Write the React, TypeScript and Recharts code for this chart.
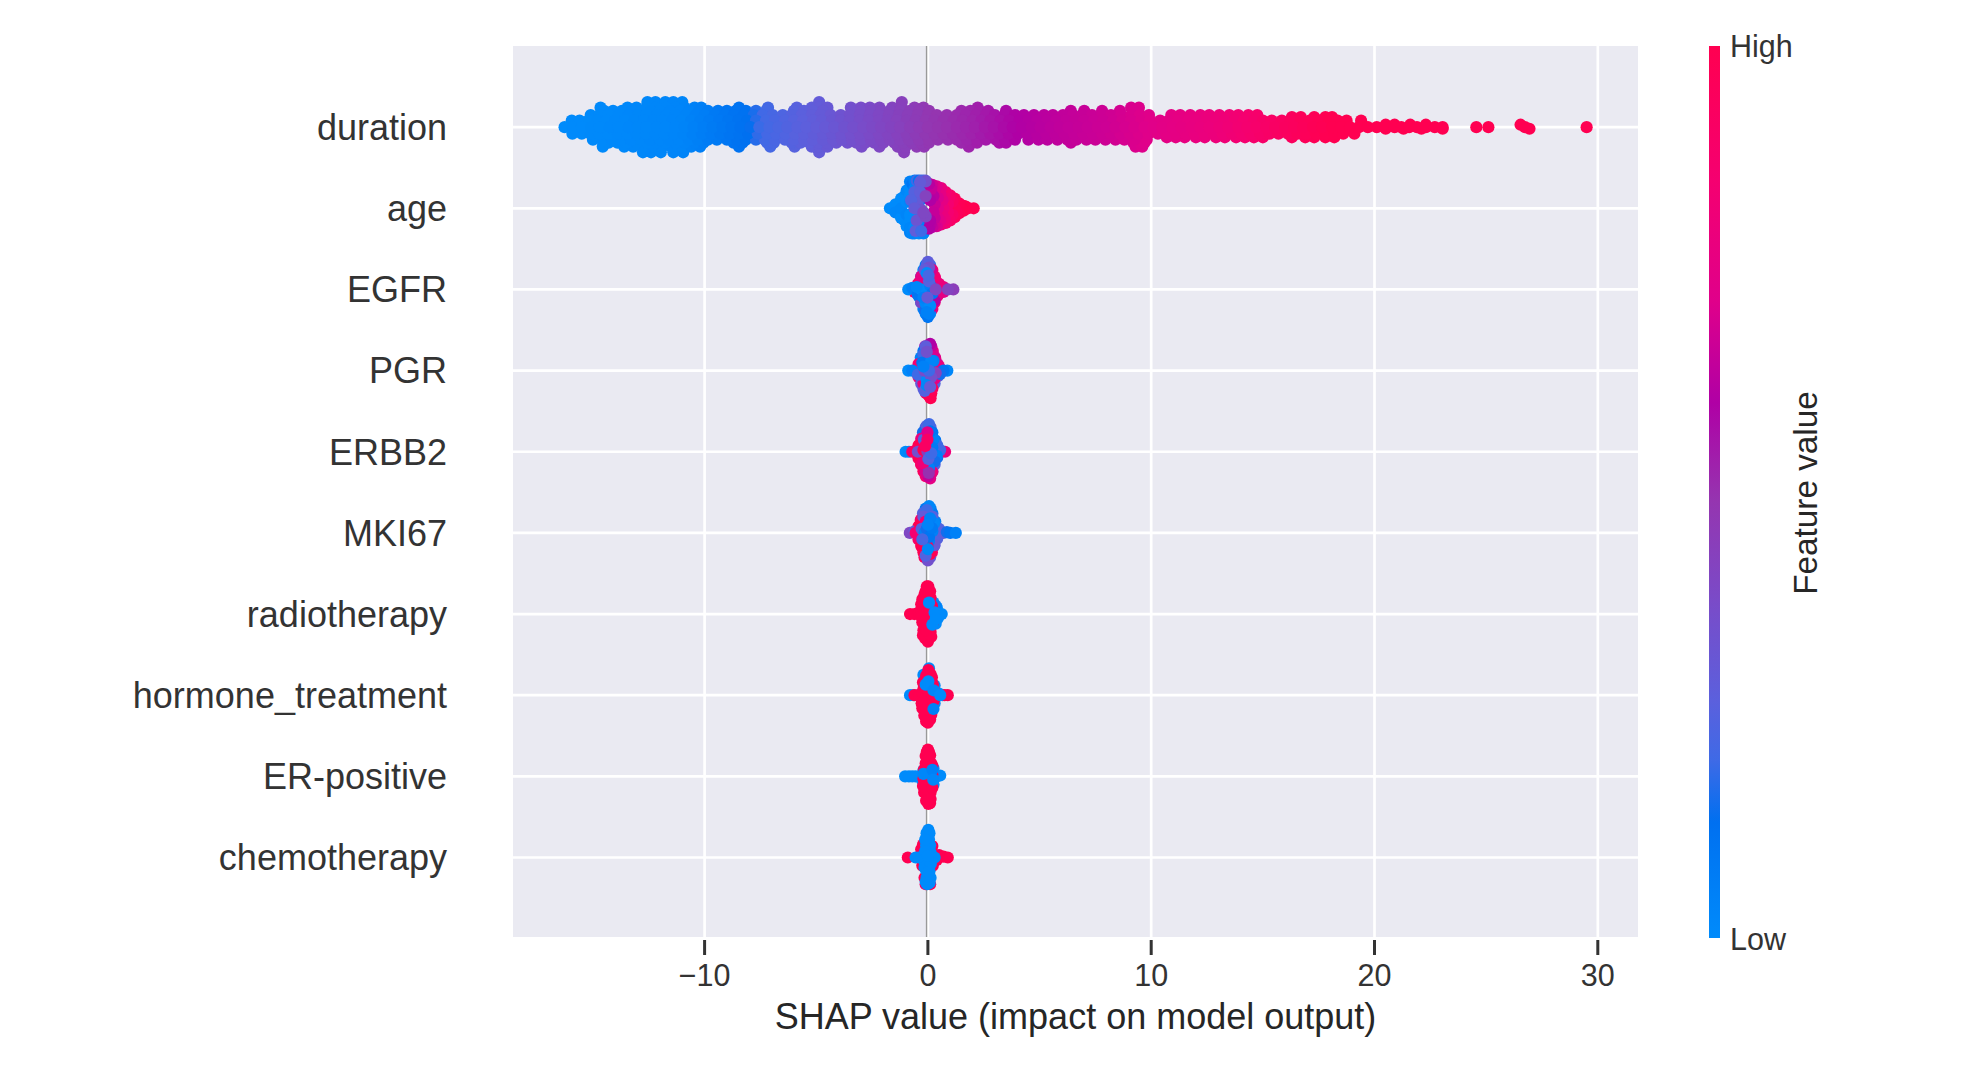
import React from "react";
import { ScatterChart, Scatter, XAxis, YAxis, CartesianGrid, ReferenceLine } from "recharts";

const features = ["chemotherapy", "ER-positive", "hormone_treatment", "radiotherapy", "MKI67", "ERBB2", "PGR", "EGFR", "age", "duration"];
const xTicks = [-10, 0, 10, 20, 30];
const yTicks = [0, 1, 2, 3, 4, 5, 6, 7, 8, 9];
const zeroLine = -0.06;

// colour map: feature value -> colour
const cmapV = [0, 0.13, 0.2, 0.266, 0.378, 0.49, 0.6, 0.715, 0.85, 1];
const cmapC = ["#008bfb", "#0070f0", "#3f6ae6", "#5b60dd", "#7a4bc8", "#9535b0", "#b000a5", "#e0008a", "#f50070", "#ff0051"];

const durKnotX = [-16.5, -11, -9, -8, -7.5, -5, -3, -1, 0, 2, 4, 6, 8, 10, 13, 16, 18, 30];
const durKnotV = [0, 0.03, 0.1, 0.13, 0.2, 0.29, 0.37, 0.44, 0.48, 0.53, 0.6, 0.64, 0.67, 0.72, 0.8, 0.93, 1, 1];

// duration: SHAP values per swarm layer (vertical offset within the row)
const durLayer0 = [-16.27, -15.9, -15.5, -15.08, -14.7, -14.25, -13.85, -13.4, -13, -12.6, -12.15, -11.75, -11.3, -10.9, -10.5, -10.05, -9.65, -9.2, -8.8, -8.4, -7.95, -7.55, -7.1, -6.7, -6.3, -5.85, -5.45, -5, -4.6, -4.2, -3.75, -3.35, -2.9, -2.5, -2.1, -1.65, -1.25, -0.8, -0.4, 0, 0.45, 0.85, 1.3, 1.7, 2.1, 2.55, 2.95, 3.4, 3.8, 4.2, 4.65, 5.05, 5.5, 5.9, 6.3, 6.75, 7.15, 7.6, 8, 8.4, 8.85, 9.25, 9.7, 10.1, 10.5, 10.95, 11.35, 11.8, 12.2, 12.6, 13.05, 13.45, 13.9, 14.3, 14.7, 15.15, 15.55, 16, 16.4, 16.8, 17.25, 17.65, 18.1, 18.5, 18.9, 19.3, 19.7, 20.1, 20.5, 20.9, 21.2, 21.55, 21.9, 22.3, 22.7, 23.05, 24.56, 25.1, 26.74, 29.5];
const durUp1 = [-15.95, -15.6, -15.2, -14.8, -14.4, -14, -13.55, -13.15, -12.7, -12.3, -11.9, -11.45, -11.05, -10.6, -10.2, -9.8, -9.35, -8.95, -8.5, -8.1, -7.7, -7.25, -6.85, -6.4, -6, -5.6, -5.15, -4.75, -4.3, -3.9, -3.5, -3.05, -2.65, -2.2, -1.8, -1.4, -0.95, -0.55, -0.1, 0.3, 0.7, 1.15, 1.55, 2, 2.4, 2.8, 3.25, 3.65, 4.1, 4.5, 4.9, 5.35, 5.75, 6.2, 6.6, 7, 7.45, 7.85, 8.3, 8.7, 9.1, 9.55, 9.95, 10.4, 10.8, 11.2, 11.65, 12.05, 12.5, 12.9, 13.3, 13.75, 14.15, 14.6, 15, 15.4, 15.85, 16.25, 16.7, 17.1, 17.5, 17.95, 18.35, 18.75, 19.4];
const durDown1 = [-15.92, -15.5, -15.12, -14.7, -14.3, -13.88, -13.45, -13.05, -12.62, -12.2, -11.8, -11.38, -10.95, -10.55, -10.12, -9.7, -9.3, -8.88, -8.45, -8.05, -7.62, -7.2, -6.8, -6.38, -5.95, -5.55, -5.12, -4.7, -4.3, -3.88, -3.45, -3.05, -2.62, -2.2, -1.8, -1.38, -0.95, -0.55, -0.12, 0.3, 0.7, 1.12, 1.55, 1.95, 2.38, 2.8, 3.2, 3.62, 4.05, 4.45, 4.88, 5.3, 5.7, 6.12, 6.55, 6.95, 7.38, 7.8, 8.2, 8.62, 9.05, 9.45, 9.88, 10.3, 10.7, 11.12, 11.55, 11.95, 12.38, 12.8, 13.2, 13.62, 14.05, 14.45, 14.88, 15.3, 15.7, 16.12, 16.55, 16.95, 17.38, 17.8, 18.2, 18.6, 19.1];
const durUp2 = [-15.1, -14.7, -14.3, -13.85, -13.4, -13, -12.6, -12.15, -11.7, -11.3, -10.85, -10.4, -10, -9.55, -9.1, -8.7, -8.25, -7.8, -7.4, -6.95, -6.5, -6.1, -5.65, -5.2, -4.8, -4.35, -3.9, -3.5, -3.05, -2.6, -2.2, -1.75, -1.3, -0.9, -0.45, 0, 0.4, 0.85, 1.3, 1.7, 2.15, 2.6, 3, 3.45, 3.9, 4.3, 4.75, 5.2, 5.6, 6.05, 6.5, 6.9, 7.35, 7.8, 8.2, 8.65, 9.1, 9.5, 9.9, 10.9, 11.3, 11.75, 12.2, 12.6, 13.05, 13.5, 13.9, 14.35, 14.75];
const durDown2 = [-15, -14.6, -14.15, -13.75, -13.3, -12.85, -12.45, -12, -11.6, -11.15, -10.7, -10.3, -9.85, -9.45, -9, -8.55, -8.15, -7.7, -7.3, -6.85, -6.4, -6, -5.55, -5.15, -4.7, -4.25, -3.85, -3.4, -3, -2.55, -2.1, -1.7, -1.25, -0.85, -0.4, 0.05, 0.45, 0.9, 1.3, 1.75, 2.2, 2.6, 3.05, 3.45, 3.9, 4.5, 4.95, 5.35, 5.8, 6.25, 6.65, 7.1, 7.5, 7.95, 8.4, 8.8, 9.25, 9.8];
const durUpMid = [-14.5, -14.1, -13.7, -13.25, -12.85, -12.4, -12, -11.55, -11.1, -10.7, -10.25, -9.85, -9.4, -9, -8.6, -8.15, -7.7, -7.25, -6, -5.55, -5.15, -4.7, -3.4, -3, -2.55, -2.1, -1.7, -1.25, -0.8, -0.4, 0.05, 1.5, 1.9, 2.3, 2.7, 3.5, 6.4, 7, 7.8, 8.6, 9.2];
const durDownMid = [-14.3, -13.9, -13.5, -13.05, -12.6, -12.2, -11.75, -11.3, -10.9, -10.45, -10.05, -8.7, -8.3, -7.2, -6.9, -6.1, -5.7, -5.3, -4.9, -4.5, -4.1, -3.6, -3.2, -2.8, -2.4, -2, -1.5, -1.1, -0.7, -0.3, 0.05, 1.5, 1.9, 2.2, 3.2, 3.5, 6.4, 9.2, 9.5, 9.7];
const durUpTail = [16.3, 16.7, 17.3, 17.8, 18.1];
const durDownTail = [10.7, 11.1, 11.5, 12, 12.4, 12.9, 13.3, 13.8, 14.2, 14.6, 15, 16.3, 16.9, 17.3, 17.8, 18.2];
const durUpEnd = [20.5, 20.9, 21.6, 22.3, 26.54];
const durDownEnd = [20.5, 21.3, 22.1, 23.05, 26.94];
const durUp3 = [-14.66, -13.45, -13.05, -12.6, -12.2, -11.75, -11.3, -10.9, -10.45, -10.15, -8.46, -7.16, -5.87, -5.2, -4.87, -4.5, -3.45, -3, -2.6, -2.17, -1.6, -1.17, -0.6, -0.2, 2.23, 9.1, 9.45];
const durDown3 = [-14.56, -13.6, -13.2, -12.75, -12.3, -11.9, -11.5, -11, -10.6, -10.2, -8.46, -7.06, -5.97, -5.2, -4.87, -4.5, -2.97, -2.17, -1.35, -1, -0.5, -0.17, 1.83, 9.3, 9.6];
const durUp4 = [-12.56, -12.2, -11.76, -11.4, -11, -4.87, -1.17];
const durDown4 = [-12.76, -12.4, -11.96, -11.4, -10.96, -4.87, -1.07];

// other features: [SHAP value, offset within row, feature value], in drawing order
const agePoints = [
  [-1.7, 0, 0], [-1.45, 0.05, 0], [-1.45, -0.05, 0.02], [-1.2, 0.12, 0], [-1.2, -0.12, 0], [-1.2, 0, 0.02], [-1.05, 0.15, 0], [-1.05, -0.15, 0], [-0.95, 0.22, 0.02], [-0.95, -0.22, 0], [-0.95, 0.08, 0], [-0.95, -0.08, 0.03],
  [-0.8, 0.33, 0.05], [-0.8, -0.3, 0.05], [-0.8, 0.24, 0], [-0.8, 0.16, 0], [-0.8, 0.08, 0.02], [-0.8, -0.08, 0], [-0.8, -0.16, 0], [-0.8, -0.24, 0.02], [-0.7, 0.3, 0.1], [-0.7, -0.31, 0.02], [-0.6, 0.34, 0.05], [-0.6, -0.31, 0.03], [-0.6, 0.24, 0.03], [-0.6, -0.24, 0], [-0.55, 0.12, 0.02], [-0.55, -0.08, 0], [-0.5, 0.34, 0.2], [-0.4, 0.34, 0.1], [-0.4, -0.31, 0], [-0.35, 0.1, 0.05], [-0.35, -0.12, 0.02], [-0.3, 0.34, 0.25], [-0.3, -0.2, 0], [-0.2, -0.31, 0.02], [-0.2, 0.34, 0.2], [-0.15, 0.25, 0.1], [-0.15, -0.2, 0.05], [-0.1, 0.34, 0.3],
  [2.05, 0, 1], [1.8, 0, 1], [1.7, 0.02, 1], [1.6, 0.03, 1], [1.6, -0.03, 1], [1.5, 0, 1], [1.4, 0.06, 0.98], [1.4, -0.06, 0.98], [1.3, 0.06, 0.98], [1.3, -0.06, 0.95], [1.2, 0.12, 0.95], [1.2, -0.11, 0.95], [1.2, 0, 0.95], [1.1, 0.08, 0.92], [1.1, -0.08, 0.9], [1, 0.16, 0.9], [1, -0.15, 0.9], [0.95, 0.12, 0.88], [0.95, -0.12, 0.88], [0.8, 0.2, 0.85], [0.8, -0.18, 0.85], [0.9, 0.05, 0.85], [0.9, -0.05, 0.85], [0.75, 0.13, 0.82], [0.75, -0.13, 0.8], [0.7, 0, 0.8], [0.6, 0.25, 0.78], [0.6, -0.2, 0.8], [0.65, 0.1, 0.75], [0.65, -0.08, 0.78], [0.55, 0.18, 0.75], [0.55, -0.15, 0.75], [0.4, 0.27, 0.72], [0.4, -0.22, 0.7], [0.45, 0.13, 0.7], [0.45, 0, 0.72], [0.45, -0.12, 0.72], [0.3, 0.22, 0.7], [0.3, -0.2, 0.68], [0.3, 0.05, 0.66], [0.3, -0.12, 0.65], [0.2, 0.29, 0.68], [0.2, -0.23, 0.65], [0.25, 0.15, 0.62], [0.25, -0.05, 0.65], [0.15, 0.24, 0.65], [0.12, -0.2, 0.62], [0.05, 0.3, 0.62], [0.05, -0.25, 0.6], [0.1, 0.1, 0.6], [0.1, -0.15, 0.6],
  [-0.1, 0.33, 0.35], [-0.35, 0.32, 0.3], [-0.6, 0.2, 0.25], [-0.45, 0.08, 0.3], [-0.75, 0.1, 0.25], [-0.35, 0.2, 0.28], [-0.5, -0.15, 0.33], [-0.3, -0.02, 0.35], [-0.1, 0.15, 0.42], [-0.1, -0.1, 0.4], [-0.6, 0, 0.3], [-0.55, -0.28, 0.28], [-0.2, -0.05, 0.4], [-0.3, -0.28, 0.2],
];
const egfrPoints = [
  [-0.1, 0.3, 0.1], [0.1, 0.3, 0.2], [-0.2, 0.24, 0.05], [0.2, 0.24, 0.9], [-0.3, 0.16, 0.15], [-0.1, 0.16, 0.8], [0.1, 0.16, 0.75], [0.32, 0.14, 0.8], [-0.42, 0.08, 0.85], [-0.18, 0.08, 0.7], [0.15, 0.08, 0.7], [0.42, 0.08, 0.8], [-0.6, 0, 0.2], [-0.25, 0, 0.85], [0.25, 0, 0.9], [0.55, 0, 0.75], [-0.42, -0.08, 0.1], [-0.15, -0.08, 0.05], [0.15, -0.08, 0.1], [0.42, -0.08, 0.9], [-0.3, -0.16, 0.05], [-0.1, -0.16, 0.05], [0.12, -0.16, 0.1], [0.3, -0.16, 0.85], [-0.2, -0.24, 0.05], [0.2, -0.24, 0.8], [-0.1, -0.3, 0.05], [0.1, -0.3, 0.02],
  [-0.6, -0.03, 0.85], [-0.45, 0.06, 0.9], [0.7, 0.03, 0.75], [0.7, -0.03, 0.72], [0.5, 0.07, 0.8], [0.45, -0.07, 0.75], [0.3, 0.16, 0.85], [0.3, -0.14, 0.6], [-0.3, 0.16, 0.75], [-0.3, -0.16, 0.4], [0.15, 0.24, 0.7], [0.1, -0.24, 0.65],
  [-0.88, 0, 0], [-0.7, 0.02, 0.05], [-0.45, -0.06, 0.1], [1.14, 0, 0.45], [0.9, 0, 0.42], [0, 0.34, 0.28], [-0.05, 0.3, 0.25], [0.05, 0.27, 0.35], [-0.15, 0.24, 0.3], [-0.12, -0.26, 0.15], [0, -0.34, 0.1], [0.05, -0.3, 0.05],
  [-0.05, 0.2, 0], [-0.3, 0, 0], [-0.5, 0.03, 0.02], [0.1, 0.05, 0.05], [-0.1, -0.17, 0.02], [0.1, -0.2, 0], [-0.05, -0.28, 0.05], [0.2, -0.05, 0.1], [-0.2, -0.1, 0.05], [0.05, 0.1, 0.25], [0.35, 0, 0.4], [-0.02, -0.1, 0.3], [0.03, 0.17, 0.22],
];
const pgrPoints = [
  [-0.12, 0.3, 0.6], [0.1, 0.3, 0.25], [-0.2, 0.24, 0.1], [0.22, 0.24, 0.75], [-0.32, 0.16, 0.05], [-0.1, 0.16, 0.1], [0.12, 0.16, 0.05], [0.33, 0.15, 0.8], [-0.42, 0.08, 0.85], [-0.15, 0.08, 0.2], [0.12, 0.08, 0.1], [0.44, 0.08, 0.7], [-0.55, 0, 0.9], [-0.25, 0, 0.15], [0.25, 0, 0.05], [0.6, 0, 0.1], [-0.42, -0.08, 0.85], [-0.15, -0.08, 0.1], [0.15, -0.08, 0.1], [0.45, -0.07, 0.25], [-0.3, -0.16, 0.3], [-0.1, -0.16, 0.05], [0.12, -0.16, 0.1], [0.3, -0.16, 0.25], [-0.2, -0.22, 0.3], [0.02, -0.25, 0.1], [-0.08, -0.28, 0.9], [0.02, -0.3, 1],
  [-0.6, 0, 0.9], [-0.35, 0.08, 0.85], [0.5, 0.05, 0.8], [0.3, -0.1, 0.75], [0.15, 0.3, 0.65], [0.1, 0.33, 0.6], [0.15, -0.28, 1], [0.12, -0.34, 1], [0.2, -0.22, 0.95], [-0.2, -0.16, 0.8], [0.3, 0.17, 0.7],
  [-0.88, 0, 0], [-0.7, 0, 0.05], [0.87, 0, 0.02], [0.7, 0, 0.1], [0.55, -0.04, 0.15], [-0.45, -0.05, 0.2], [-0.1, 0.3, 0.28], [-0.2, 0.2, 0.2], [0.25, 0.12, 0.05], [-0.25, 0.1, 0.1], [-0.15, -0.25, 0.25], [-0.05, -0.12, 0],
  [0.15, 0.12, 0.03], [-0.05, 0.23, 0.35], [-0.15, 0, 0.38], [0.35, -0.03, 0.42], [0.15, -0.08, 0.35], [0.05, 0, 0.2], [-0.05, -0.18, 0.02], [-0.2, 0.05, 0.05], [0.1, -0.2, 0.3],
];
const erbb2Points = [
  [-0.1, 0.3, 0.2], [0.12, 0.3, 0.25], [-0.22, 0.24, 0.15], [0.2, 0.24, 0.1], [-0.3, 0.16, 0.8], [-0.08, 0.16, 0.9], [0.12, 0.16, 0.2], [0.33, 0.14, 0.1], [-0.42, 0.08, 1], [-0.18, 0.08, 0.95], [0.15, 0.08, 0.15], [0.42, 0.08, 0.2], [-0.6, 0, 1], [-0.25, 0, 0.3], [0.25, 0, 0.1], [0.6, 0, 0.3], [-0.42, -0.08, 0.95], [-0.15, -0.08, 1], [0.15, -0.08, 0.2], [0.42, -0.07, 0.15], [-0.3, -0.16, 0.9], [-0.1, -0.16, 0.75], [0.12, -0.16, 0.1], [0.3, -0.16, 0.25], [-0.2, -0.24, 0.95], [0.2, -0.24, 0.3], [-0.1, -0.3, 0.85], [0.1, -0.3, 0.7],
  [-1, 0, 0], [-0.85, 0, 0.02], [-0.7, 0, 0.9], [-0.55, 0.01, 0.95], [-0.4, -0.05, 1], [-0.3, -0.15, 0.9], [-0.1, 0.1, 1], [0.77, 0, 0.8], [0.55, 0.02, 0.2], [0.4, -0.05, 0.05], [0.25, 0.15, 0.05], [0.3, -0.12, 0.15],
  [-0.05, 0.32, 0.25], [0.05, 0.34, 0.2], [0.1, 0.25, 0.1], [-0.18, 0.15, 0.25], [0.2, -0.25, 0.8], [0.1, -0.33, 0.75], [0.02, -0.3, 0.65], [-0.1, -0.25, 0.7], [0.05, -0.2, 0.05],
  [-0.45, 0, 0.35], [0.2, 0.05, 0.08], [-0.02, 0.24, 0.72], [-0.02, 0.15, 0.9], [-0.2, 0.02, 1], [-0.02, 0, 0.45], [-0.2, -0.14, 0.82], [0.02, -0.09, 0.25], [0.04, -0.26, 0.5], [0.15, -0.02, 0.2], [-0.12, 0.07, 0.92],
];
const mki67Points = [
  [-0.1, 0.3, 0.1], [0.12, 0.3, 0.05], [-0.22, 0.24, 0.25], [0.2, 0.24, 0.08], [-0.32, 0.16, 0.9], [-0.12, 0.16, 0.1], [0.12, 0.16, 0.05], [0.33, 0.14, 0.05], [-0.42, 0.08, 1], [-0.18, 0.08, 0.2], [0.15, 0.08, 0.1], [0.42, 0.06, 0.15], [-0.55, 0, 0.5], [-0.25, 0, 0.8], [0.25, 0, 0.05], [0.6, 0, 0.2], [-0.42, -0.08, 0.9], [-0.15, -0.08, 0.15], [0.15, -0.08, 0.1], [0.42, -0.07, 0.25], [-0.3, -0.16, 1], [-0.1, -0.16, 0.9], [0.12, -0.16, 0.2], [0.28, -0.16, 0.2], [-0.2, -0.24, 1], [0.18, -0.24, 0.9], [-0.12, -0.3, 0.95], [0.1, -0.3, 0.3],
  [-0.81, 0, 0.4], [-0.6, 0.02, 0.3], [-0.45, -0.02, 0.8], [-0.35, 0.1, 1], [-0.25, -0.18, 1], [-0.15, -0.3, 0.95], [0, -0.34, 0.35], [0.1, -0.26, 1], [0.3, -0.15, 0.3], [0.5, 0.05, 0.25], [0.7, 0, 0.28], [0.85, 0.01, 0.15],
  [1, 0, 0.1], [1.25, 0, 0.05], [0.05, 0.33, 0.02], [-0.05, 0.28, 0.2], [-0.2, 0.2, 0.3], [0.2, 0.2, 0.25], [-0.55, 0, 0.85], [-0.1, 0.14, 0.85], [-0.28, 0.05, 0.25], [0.2, 0.02, 0.05], [0.28, 0.12, 0.02], [0.1, 0.18, 0.05], [0.05, -0.1, 0.05],
  [-0.02, -0.17, 1], [-0.1, -0.28, 0.25], [0, -0.2, 0.02], [-0.15, 0, 0.05], [-0.05, 0.05, 0.15], [0.05, -0.05, 0.1], [0.18, 0.06, 0.08], [-0.25, -0.08, 0.22], [0, 0.1, 0.04],
];
const radioPoints = [
  [0.62, 0, 0], [0.45, -0.05, 0], [0.4, 0.08, 0], [0.25, 0.14, 0], [0.35, 0.1, 0.05], [0.2, -0.02, 0], [0.35, -0.12, 0], [-0.05, 0.2, 0.3],
  [-0.8, 0, 1], [-0.6, 0, 1], [-0.4, 0.02, 1], [-0.3, 0.12, 1], [-0.25, -0.1, 1], [-0.15, 0.24, 1], [-0.05, 0.34, 1], [0.02, 0.34, 1], [0.1, 0.28, 1], [0.05, 0.18, 1], [-0.1, 0.1, 1], [-0.2, -0.2, 1], [-0.12, -0.3, 1], [0, -0.34, 1], [0.05, -0.3, 1], [0.12, -0.22, 1], [0.2, -0.12, 1], [0.05, -0.1, 1], [-0.1, 0, 1], [0, 0.08, 1], [-0.02, -0.2, 1],
  [-0.25, 0.18, 1], [-0.1, 0.28, 1], [0.12, 0.2, 1], [-0.3, 0.05, 1], [-0.2, 0.06, 1], [-0.3, -0.03, 1], [0.1, 0, 1], [0.18, 0.1, 1], [-0.15, -0.14, 1], [-0.22, -0.26, 1], [0.15, -0.28, 1], [0.22, -0.05, 1], [0.05, -0.24, 1], [-0.08, -0.2, 1],
  [0.05, 0.14, 0], [0.55, 0, 0], [0.3, 0.02, 0], [0.2, -0.13, 0], [0.35, -0.06, 0],
];
const hormonePoints = [
  [-0.8, 0, 0], [-0.65, 0, 0], [0.65, 0, 0], [0.5, 0.02, 0], [0.3, 0.12, 0], [-0.2, 0.25, 0], [0.3, -0.1, 0], [-0.15, -0.15, 0], [0.05, 0.33, 0],
  [0.89, 0, 1], [0.75, 0, 1], [-0.6, 0, 1], [-0.4, 0, 1], [0.02, 0.31, 1], [0.12, 0.26, 1], [-0.08, 0.24, 0.98], [0.2, -0.03, 1], [0, 0, 1], [-0.2, -0.05, 1], [0.32, 0.03, 1], [-0.15, -0.12, 1], [0.1, -0.1, 1], [-0.1, -0.25, 1], [0, -0.34, 1], [0.1, -0.3, 1], [0.05, -0.2, 1], [-0.1, 0.03, 1],
  [-0.22, 0.16, 1], [0.1, 0.1, 1], [-0.25, 0.04, 1], [-0.25, -0.16, 1], [0.2, -0.16, 1], [-0.16, -0.25, 1], [0.15, -0.24, 1], [0.05, -0.05, 1], [-0.08, -0.32, 1], [0.02, 0.04, 1], [-0.12, -0.05, 1], [0.22, 0.13, 1], [-0.02, 0.25, 1], [-0.18, 0.1, 1], [0.18, 0.22, 1], [0.26, -0.07, 1], [-0.28, -0.1, 1],
  [0.02, 0.17, 0], [-0.1, 0.13, 0], [0.25, 0.06, 0.02], [0.25, -0.17, 0.05], [0.55, 0, 0],
];
const erPoints = [
  [-1.02, 0, 0], [-0.85, 0, 0], [-0.7, 0, 0], [-0.55, 0, 0], [0.55, 0.01, 0], [0.4, 0, 0], [0.25, -0.1, 0], [-0.2, 0.07, 0], [-0.25, -0.05, 0], [0.25, 0.1, 0],
  [0, 0.33, 1], [0.1, 0.26, 1], [-0.1, 0.25, 1], [0.15, 0.16, 1], [-0.1, 0.16, 1], [0, 0.1, 1], [-0.02, 0.01, 1], [0.2, 0.02, 1], [0.05, -0.1, 1], [-0.15, -0.1, 1], [0.12, -0.2, 1], [-0.1, -0.2, 1], [0, -0.29, 1], [0.02, -0.34, 1], [0.1, -0.33, 1],
  [0.05, 0.3, 1], [-0.05, 0.3, 1], [-0.02, 0.2, 1], [-0.18, 0.08, 1], [0.1, 0.08, 1], [-0.2, -0.03, 1], [-0.1, 0, 1], [0.1, 0, 1], [0.15, -0.08, 1], [-0.02, -0.12, 1], [-0.17, -0.2, 1], [0.02, -0.2, 1], [-0.08, -0.3, 1], [0.12, -0.28, 1], [-0.22, -0.12, 1], [0.2, -0.14, 1], [0.2, 0.13, 1],
  [-0.2, 0.03, 0.02], [0.2, 0.08, 0.05], [0.24, -0.04, 0.02],
];
const chemoPoints = [
  [-0.9, 0, 1], [0.89, 0, 1], [0.7, 0.01, 1], [0.5, 0.03, 1], [0.4, -0.03, 1], [-0.3, 0.1, 1], [-0.25, -0.1, 1], [-0.22, 0.16, 1], [0.2, 0.06, 1], [0.2, 0.14, 1], [-0.15, -0.25, 1], [0.1, -0.33, 1], [-0.1, -0.33, 0.9], [0.22, -0.1, 1],
  [-0.55, 0, 0], [-0.4, 0, 0], [0.02, 0.34, 0], [-0.03, 0.28, 0], [0.05, 0.22, 0], [-0.08, 0.15, 0], [0.02, 0.1, 0], [0.1, 0, 0], [-0.1, 0.02, 0], [-0.2, 0.02, 0], [0.3, 0, 0], [0.02, -0.08, 0], [-0.08, -0.16, 0], [0.07, -0.17, 0], [-0.06, -0.25, 0], [0.04, -0.25, 0], [0.02, -0.32, 0], [-0.03, -0.33, 0],
  [-0.06, 0.3, 0], [0.07, 0.3, 0], [0.1, 0.15, 0], [-0.12, 0.22, 0], [0.12, 0.06, 0], [-0.12, 0.08, 0], [-0.15, -0.05, 0], [-0.15, -0.12, 0], [0.13, -0.08, 0], [0.12, -0.25, 0], [-0.1, -0.3, 0], [0, 0.02, 0], [0, -0.18, 0], [0.08, -0.31, 0],
];

const offsets: [number[], number][] = [
  [durDown4, -0.31], [durUp4, 0.31], [durDown3, -0.24], [durUp3, 0.24], [durDownMid, -0.19], [durUpMid, 0.2], [durDownTail, -0.125], [durUpTail, 0.125], [durDown2, -0.155], [durUp2, 0.15],
  [durDown1, -0.08], [durUp1, 0.08], [durDownEnd, -0.02], [durUpEnd, 0.03], [durLayer0, 0],
];

function hexToRgb(h: string) {
  return [parseInt(h.slice(1, 3), 16), parseInt(h.slice(3, 5), 16), parseInt(h.slice(5, 7), 16)];
}
function colorOf(v: number) {
  let i = 0;
  while (i < cmapV.length - 2 && v > cmapV[i + 1]) i++;
  const t = Math.min(1, Math.max(0, (v - cmapV[i]) / (cmapV[i + 1] - cmapV[i])));
  const a = hexToRgb(cmapC[i]);
  const b = hexToRgb(cmapC[i + 1]);
  return `rgb(${a.map((c, k) => Math.round(c + (b[k] - c) * t)).join(",")})`;
}
function durValue(x: number) {
  let i = 0;
  while (i < durKnotX.length - 2 && x > durKnotX[i + 1]) i++;
  const t = (x - durKnotX[i]) / (durKnotX[i + 1] - durKnotX[i]);
  return durKnotV[i] + (durKnotV[i + 1] - durKnotV[i]) * t;
}

const durationData = offsets.flatMap(([xs, o]) => xs.map((x) => ({ x, y: 9 + o, v: durValue(x) })));
const rowData = (row: number, pts: number[][]) => pts.map(([x, o, v]) => ({ x, y: row + o, v }));
const series = [
  durationData,
  rowData(8, agePoints),
  rowData(7, egfrPoints),
  rowData(6, pgrPoints),
  rowData(5, erbb2Points),
  rowData(4, mki67Points),
  rowData(3, radioPoints),
  rowData(2, hormonePoints),
  rowData(1, erPoints),
  rowData(0, chemoPoints),
];

const Dot = (p: any) => <circle cx={p.cx} cy={p.cy} r={6.1} fill={colorOf(p.payload ? p.payload.v : p.v)} />;

const XTick = (p: any) => (
  <g>
    <line x1={p.x} x2={p.x} y1={p.y + 3} y2={p.y + 18} stroke="#333" strokeWidth={3} />
    <text x={p.x} y={p.y + 49} textAnchor="middle" fontSize={30.5} fill="#333">
      {p.payload.value < 0 ? `\u2212${-p.payload.value}` : p.payload.value}
    </text>
  </g>
);

export default function App() {
  return (
    <div style={{ position: "absolute", left: 0, top: 0, width: 1964, height: 1072, fontFamily: "'Liberation Sans', Arial, sans-serif", background: "#fff" }}>
      <ScatterChart width={1964} height={1072} margin={{ top: 46, right: 326, bottom: 0, left: 0 }}>
        <CartesianGrid fill="#EAEAF2" stroke="#fff" strokeWidth={2.7} syncWithTicks />
        <XAxis
          type="number"
          dataKey="x"
          domain={[-18.58, 31.8]}
          ticks={xTicks}
          allowDataOverflow
          height={135}
          axisLine={false}
          tickLine={false}
          tickSize={0}
          tickMargin={0}
          interval={0}
          tick={<XTick />}
          label={{ value: "SHAP value (impact on model output)", position: "insideBottom", offset: 43, fontSize: 36, fill: "#262626" }}
        />
        <YAxis
          type="number"
          dataKey="y"
          domain={[-0.98, 10]}
          ticks={yTicks}
          allowDataOverflow
          width={513}
          axisLine={false}
          tickLine={false}
          tickSize={0}
          tickMargin={66}
          interval={0}
          tick={{ fontSize: 36, fill: "#333" }}
          tickFormatter={(v: number) => features[v]}
        />
        <ReferenceLine x={zeroLine} stroke="#999" strokeWidth={1.4} />
        {series.map((d, i) => (
          <Scatter key={i} data={d} isAnimationActive={false} shape={<Dot />} />
        ))}
        <defs>
          <linearGradient id="cb" x1="0" y1="1" x2="0" y2="0">
            {cmapV.map((v, i) => (
              <stop key={i} offset={v} stopColor={cmapC[i]} />
            ))}
          </linearGradient>
        </defs>
        <rect x={1709} y={46} width={11} height={892} fill="url(#cb)" />
        <text x={1730} y={57} fontSize={30.5} fill="#333">High</text>
        <text x={1730} y={950} fontSize={30.5} fill="#333">Low</text>
        <text x={0} y={0} fontSize={33.3} fill="#262626" textAnchor="middle" transform="translate(1817 493) rotate(-90)">Feature value</text>
      </ScatterChart>
    </div>
  );
}
